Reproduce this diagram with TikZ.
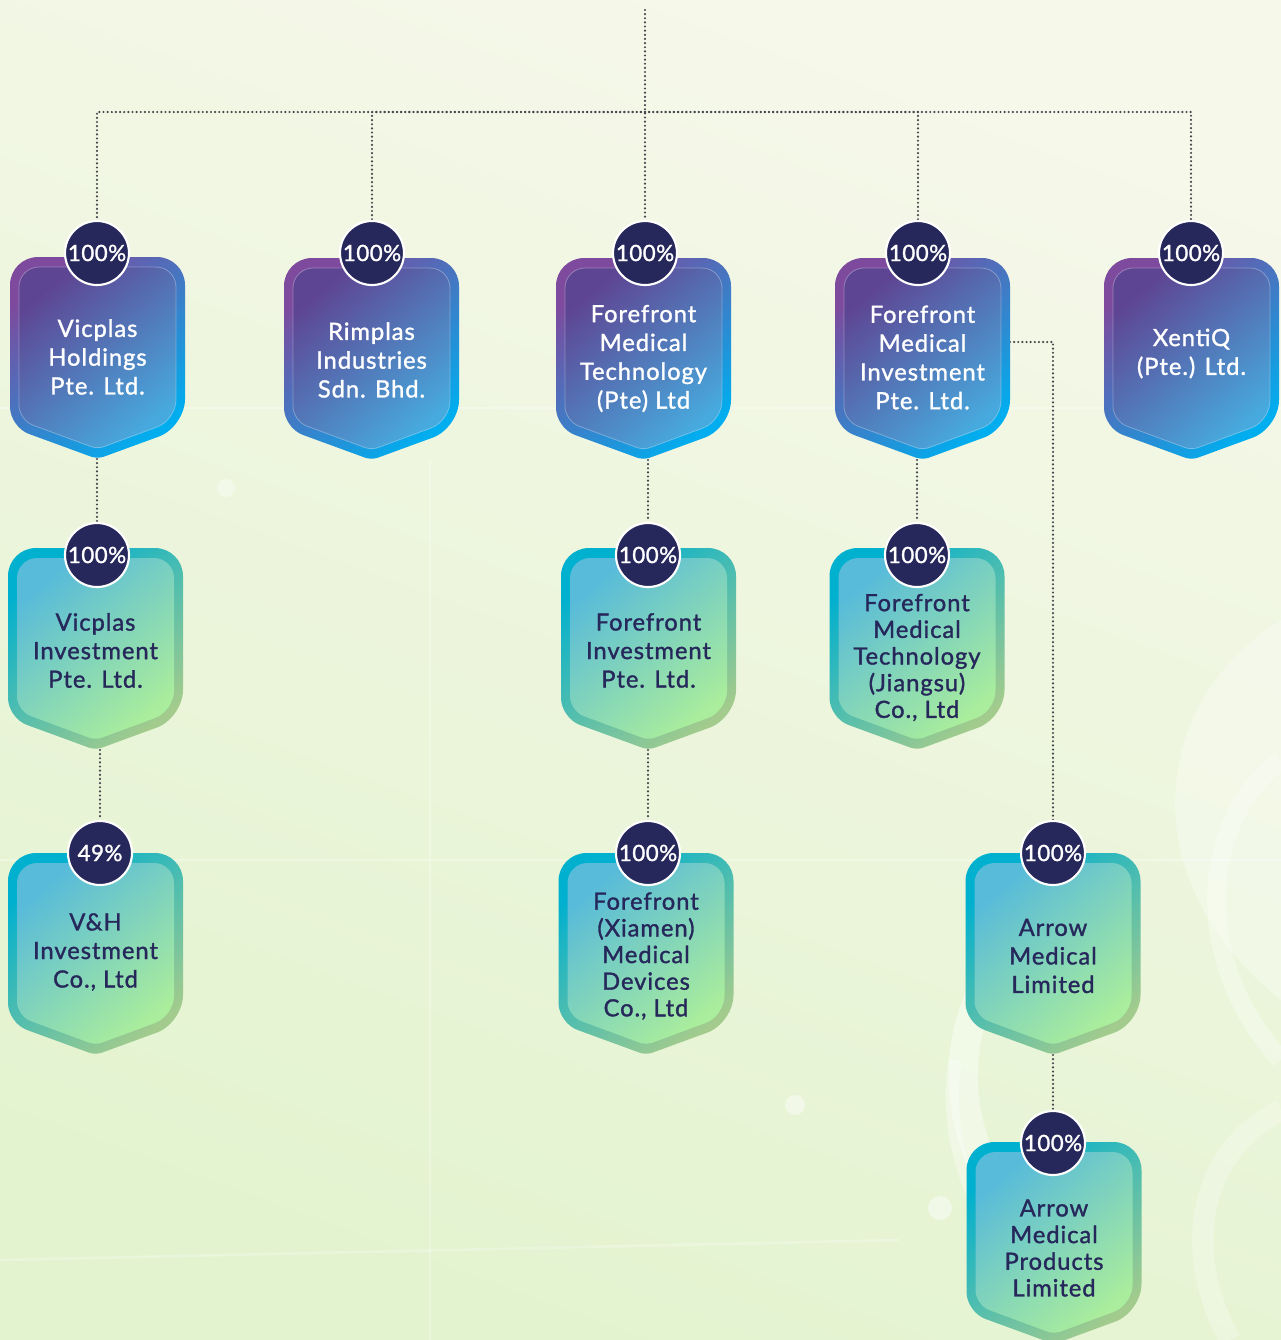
\documentclass[tikz,border=0pt]{standalone}
\usepackage{fontspec}
\newfontfamily\orgfont{Lato}[FakeBold=1.3, LetterSpace=4]
\newfontfamily\pctfont{Lato}[FakeBold=1.3, LetterSpace=2]
\usetikzlibrary{calc}
\pgfdeclarelayer{bg}
\pgfsetlayers{bg,main}
\definecolor{navy}{HTML}{26275A}
\definecolor{lineC}{HTML}{45474D}
\definecolor{bgA}{HTML}{F6F8EA}
\definecolor{bgB}{HTML}{E3F3CF}
\definecolor{pA}{HTML}{7D4A9D}
\definecolor{pB}{HTML}{4A6DB8}
\definecolor{pC}{HTML}{00AEEF}
\definecolor{piA}{HTML}{5E4593}
\definecolor{piB}{HTML}{4E68AF}
\definecolor{piC}{HTML}{47AADE}
\definecolor{gA}{HTML}{00B0CF}
\definecolor{gB}{HTML}{55BAA8}
\definecolor{gC}{HTML}{A2CB8D}
\definecolor{giA}{HTML}{58BBD9}
\definecolor{giB}{HTML}{7EDBB6}
\definecolor{giC}{HTML}{AAED9C}
\tikzset{
  pouter/.style={top color=pA, middle color=pB, bottom color=pC, shading angle=40},
  pinner/.style={top color=piA, middle color=piB, bottom color=piC, shading angle=40,
    draw=white, draw opacity=0.3, line width=0.6pt},
  ptext/.style={text=white, align=center, inner sep=0pt,
    font=\orgfont\fontsize{17.8}{21.6}\selectfont},
  gouter/.style={top color=gA, middle color=gB, bottom color=gC, shading angle=40},
  ginner/.style={top color=giA, middle color=giB, bottom color=giC, shading angle=40},
  gtext/.style={text=navy, align=center, inner sep=0pt,
    font=\orgfont\fontsize{17.8}{21.4}\selectfont},
  touter/.style={gouter},
  tinner/.style={ginner},
  ttext/.style={gtext, font=\orgfont\fontsize{17.8}{20}\selectfont},
  pct/.style={circle, fill=navy, draw=white, line width=1.6pt, minimum size=48pt,
    inner sep=0pt, text=white, font=\pctfont\fontsize{16.8}{16.8}\selectfont},
  conn/.style={draw=lineC, line width=1.8pt, dash pattern=on 0pt off 3.1pt, line cap=round},
}
% #1 name, #2 cx, #3 top, #4 kind, #5 circle x, #6 circle y, #7 pct, #8 text y, #9 text
\newcommand{\orgbadge}[9]{%
  \path[#4outer] (#2-87.5,#3+90) [rounded corners=21pt] -- (#2-87.5,#3) -- (#2+87.5,#3)
     -- (#2+87.5,#3+170) [rounded corners=5pt] -- (#2,#3+202) [rounded corners=15pt]
     -- (#2-87.5,#3+170) -- cycle;
  \path[#4inner] (#2-78.5,#3+90) [rounded corners=15pt] -- (#2-78.5,#3+10) -- (#2+78.5,#3+10)
     -- (#2+78.5,#3+163) [rounded corners=5pt] -- (#2,#3+192) [rounded corners=11pt]
     -- (#2-78.5,#3+163) -- cycle;
  \coordinate (#1-bot) at (#2,#3+202);
  \coordinate (#1-right) at (#2+87.5,#3+84);
  \node[#4text] (#1) at (#2,#8) {#9};
  \node[pct] (#1-pct) at (#5,#6) {#7};
}
\begin{document}
\begin{tikzpicture}[x=0.75pt,y=-0.75pt]
\useasboundingbox (0,0) rectangle (1281,1340);
\begin{pgfonlayer}{bg}
  \fill[top color=bgA, bottom color=bgB, shading angle=-20] (0,0) rectangle (1281,1340);
  \begin{scope}
    \clip (0,0) rectangle (1281,1340);
    \fill[white, opacity=0.3] (1281,620) .. controls (1150,700) and (1130,880) .. (1281,1000) -- cycle;
    \draw[white, opacity=0.4, line width=22pt] (1000,960) .. controls (930,1060) and (960,1200) .. (1090,1290);
    \draw[white, opacity=0.35, line width=10pt] (955,1060) .. controls (940,1160) and (990,1250) .. (1060,1320);
    \draw[white, opacity=0.3, line width=14pt] (1281,760) .. controls (1200,820) and (1190,960) .. (1281,1060);
    \draw[white, opacity=0.25, line width=16pt] (1281,1110) .. controls (1200,1150) and (1180,1250) .. (1230,1340);
    \draw[white, opacity=0.3, line width=2pt] (0,408) -- (1281,408);
    \draw[white, opacity=0.3, line width=2pt] (0,860) -- (1281,860);
    \draw[white, opacity=0.25, line width=2pt] (430,460) -- (430,1340);
    \draw[white, opacity=0.25, line width=2pt] (0,1260) -- (900,1240);
    \fill[white, opacity=0.45] (795,1105) circle (10);
    \fill[white, opacity=0.45] (940,1208) circle (12);
    \fill[white, opacity=0.35] (226,488) circle (9);
  \end{scope}
\end{pgfonlayer}

% Row 1
\orgbadge{vh}{97.5}{257}{p}{97}{253}{100\%}{357}{Vicplas\\Holdings\\Pte. Ltd.}
\orgbadge{rim}{371.5}{258}{p}{372}{253}{100\%}{360}{Rimplas\\Industries\\Sdn. Bhd.}
\orgbadge{fmt}{643.5}{258}{p}{645}{253}{100\%}{358.5}{Forefront\\Medical\\Technology\\(Pte) Ltd}
\orgbadge{fmi}{922.5}{258}{p}{918}{253}{100\%}{357.5}{Forefront\\Medical\\Investment\\Pte. Ltd.}
\orgbadge{xen}{1191.5}{258}{p}{1191}{253}{100\%}{353.5}{XentiQ\\(Pte.) Ltd.}
% Row 2
\orgbadge{vi}{95.5}{548}{g}{97}{555}{100\%}{650.5}{Vicplas\\Investment\\Pte. Ltd.}
\orgbadge{fi}{648.5}{548}{g}{648}{555}{100\%}{650.5}{Forefront\\Investment\\Pte. Ltd.}
\orgbadge{fmj}{917}{548}{t}{917}{555}{100\%}{657.5}{Forefront\\Medical\\Technology\\(Jiangsu)\\Co., Ltd}
% Row 3
\orgbadge{vhi}{95.5}{853}{g}{100}{853}{49\%}{952}{V\&H\\Investment\\Co., Ltd}
\orgbadge{fx}{646}{853}{t}{648}{853}{100\%}{956}{Forefront\\(Xiamen)\\Medical\\Devices\\Co., Ltd}
\orgbadge{aml}{1053}{853}{g}{1053}{853}{100\%}{956}{Arrow\\Medical\\Limited}
% Row 4
\orgbadge{amp}{1054}{1142}{t}{1053}{1143}{100\%}{1248}{Arrow\\Medical\\Products\\Limited}

\coordinate (top) at (645,10);
\coordinate (bus) at (645,112);
\begin{pgfonlayer}{bg}
  \draw[conn] (top) -- (fmt-pct.north);
  \draw[conn] (bus) -| (vh-pct.north);
  \draw[conn] (bus) -| (rim-pct.north);
  \draw[conn] (bus) -| (fmi-pct.north);
  \draw[conn] (bus) -| (xen-pct.north);
  \draw[conn] (vi-pct.north |- vh-bot) -- (vi-pct.north);
  \draw[conn] (fi-pct.north |- fmt-bot) -- (fi-pct.north);
  \draw[conn] (fmj-pct.north |- fmi-bot) -- (fmj-pct.north);
  \draw[conn] (vhi-pct.north |- vi-bot) -- (vhi-pct.north);
  \draw[conn] (fx-pct.north |- fi-bot) -- (fx-pct.north);
  \draw[conn] (fmi-right) -| (aml-pct.north);
  \draw[conn] (aml-bot) -- (amp-pct.north);
\end{pgfonlayer}
\end{tikzpicture}
\end{document}
